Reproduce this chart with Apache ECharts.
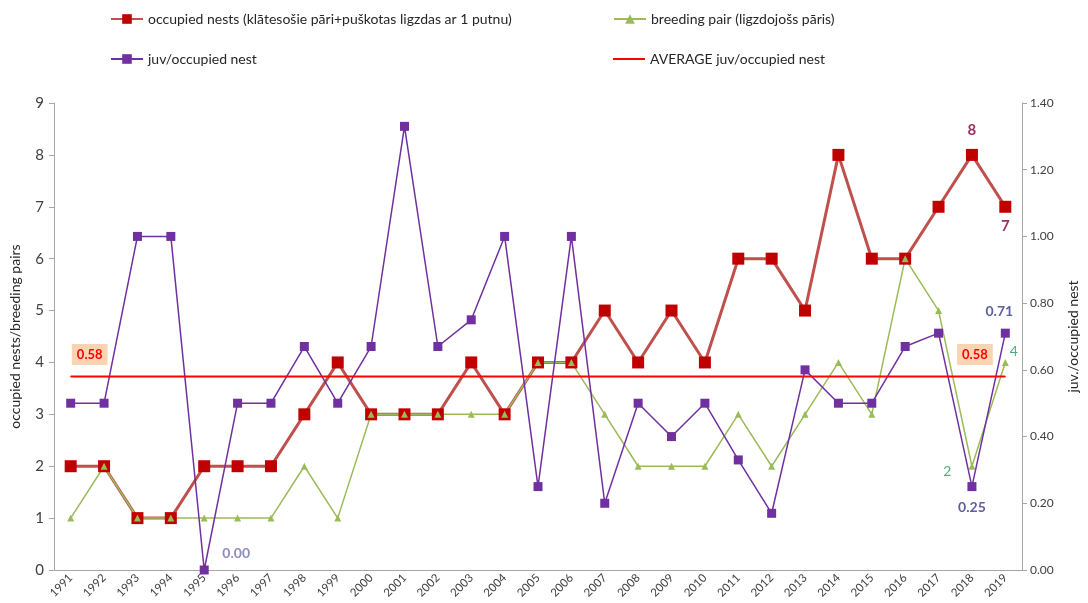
<!DOCTYPE html>
<html lang="en">
<head>
  <meta charset="UTF-8">
  <script src="https://cdn.jsdelivr.net/npm/echarts@6/dist/echarts.min.js"></script>
  <style>
    body { margin: 0; background: #fff; }
    #main { width: 1088px; height: 603px; }
  </style>
  <title>occupied nests</title>
</head>
<body>
  <div id="main"></div>
  <script>
    const years = ['1991', '1992', '1993', '1994', '1995', '1996', '1997', '1998', '1999', '2000',
      '2001', '2002', '2003', '2004', '2005', '2006', '2007', '2008', '2009', '2010',
      '2011', '2012', '2013', '2014', '2015', '2016', '2017', '2018', '2019'];
    const occupiedNests = [2, 2, 1, 1, 2, 2, 2, 3, 4, 3, 3, 3, 4, 3, 4, 4, 5, 4, 5, 4, 6, 6, 5, 8, 6, 6, 7, 8, 7];
    const breedingPairs = [1, 2, 1, 1, 1, 1, 1, 2, 1, 3, 3, 3, 3, 3, 4, 4, 3, 2, 2, 2, 3, 2, 3, 4, 3, 6, 5, 2, 4];
    const juvPerNest = [0.5, 0.5, 1.0, 1.0, 0, 0.5, 0.5, 0.67, 0.5, 0.67, 1.33, 0.67, 0.75, 1.0, 0.25, 1.0, 0.2,
      0.5, 0.4, 0.5, 0.33, 0.17, 0.6, 0.5, 0.5, 0.67, 0.71, 0.25, 0.71];
    const avgJuv = 0.58;

    const font = 'Lato, "Open Sans", sans-serif';

    // labels shown only on a few points, like the original
    const nestLabels = { 27: { position: 'top', offset: [0, -6] }, 28: { position: 'bottom', offset: [0, 1] } };
    const pairLabels = { 27: { position: 'left', offset: [-12, 5] }, 28: { position: 'right', offset: [-4, -11] } };
    const juvLabels = {
      4: { position: 'top', offset: [32, 0], color: '#8c8cc0' },
      27: { position: 'bottom', offset: [0, 4] },
      28: { position: 'top', offset: [-6, -5] }
    };
    const avgLabels = { 0: { offset: [19, -6] }, 27: { offset: [3, -6] } };

    function withLabels(values, labels, base) {
      return values.map((v, i) => {
        if (!labels[i]) return v;
        return { value: v, label: Object.assign({ show: true }, base, labels[i]) };
      });
    }

    const chart = echarts.init(document.getElementById('main'));

    const legendBase = {
      orient: 'horizontal',
      itemWidth: 32,
      itemHeight: 12,
      textStyle: { fontFamily: font, fontSize: 14, color: '#262626' }
    };

    const option = {
      animation: false,
      textStyle: { fontFamily: font },
      legend: [
        Object.assign({}, legendBase, { left: 105, top: 7, data: ['occupied nests (klātesošie pāri+puškotas ligzdas ar 1 putnu)'] }),
        Object.assign({}, legendBase, { left: 608, top: 7, data: ['breeding pair (ligzdojošs pāris)'] }),
        Object.assign({}, legendBase, { left: 105, top: 47, data: ['juv/occupied nest'] }),
        Object.assign({}, legendBase, {
          left: 608, top: 47, itemHeight: 2,
          data: [{ name: 'AVERAGE juv/occupied nest', icon: 'rect' }]
        })
      ],
      grid: { left: 52, right: 58, top: 103, bottom: 33 },
      xAxis: {
        type: 'category',
        data: years,
        boundaryGap: true,
        axisLine: { lineStyle: { color: '#a6a6a6' } },
        axisTick: { lineStyle: { color: '#a6a6a6' } },
        axisLabel: { rotate: 45, fontSize: 11.5, color: '#404040', margin: 6, interval: 0 }
      },
      yAxis: [
        {
          type: 'value', min: 0, max: 9, interval: 1,
          name: 'occupied nests/breeding pairs',
          nameLocation: 'middle', nameGap: 32, nameRotate: 90,
          nameTextStyle: { fontSize: 14, color: '#262626' },
          axisLine: { show: true, lineStyle: { color: '#a6a6a6' } },
          axisTick: { show: true, lineStyle: { color: '#a6a6a6' } },
          splitLine: { show: false },
          axisLabel: { fontSize: 15, color: '#404040', margin: 10 }
        },
        {
          type: 'value', min: 0, max: 1.4, interval: 0.2,
          name: 'juv./occupied nest',
          nameLocation: 'middle', nameGap: 44, nameRotate: 90,
          nameTextStyle: { fontSize: 14, color: '#262626' },
          axisLine: { show: true, lineStyle: { color: '#a6a6a6' } },
          axisTick: { show: true, lineStyle: { color: '#a6a6a6' } },
          splitLine: { show: false },
          axisLabel: { fontSize: 12, color: '#404040', margin: 8, formatter: v => v.toFixed(2) }
        }
      ],
      series: [
        {
          name: 'occupied nests (klātesošie pāri+puškotas ligzdas ar 1 putnu)',
          type: 'line',
          yAxisIndex: 0,
          symbol: 'rect',
          symbolSize: 12,
          lineStyle: { color: '#c0504d', width: 3 },
          itemStyle: { color: '#c00000' },
          data: withLabels(occupiedNests, nestLabels, { color: '#993366', fontSize: 15, fontWeight: 'bold' })
        },
        {
          name: 'breeding pair (ligzdojošs pāris)',
          type: 'line',
          yAxisIndex: 0,
          symbol: 'triangle',
          symbolSize: 7,
          lineStyle: { color: '#9bbb59', width: 1.5 },
          itemStyle: { color: '#9bbb59' },
          data: withLabels(breedingPairs, pairLabels, { color: '#4fae7f', fontSize: 14 })
        },
        {
          name: 'juv/occupied nest',
          type: 'line',
          yAxisIndex: 1,
          symbol: 'rect',
          symbolSize: 9,
          lineStyle: { color: '#7030a0', width: 1.5 },
          itemStyle: { color: '#7030a0' },
          data: withLabels(juvPerNest, juvLabels, {
            color: '#5f5f9f', fontSize: 14, fontWeight: 'bold',
            formatter: p => p.value.toFixed(2)
          })
        },
        {
          name: 'AVERAGE juv/occupied nest',
          type: 'line',
          yAxisIndex: 1,
          symbol: 'circle',
          symbolSize: 1,
          lineStyle: { color: '#ff0000', width: 2 },
          itemStyle: { color: '#ff0000' },
          data: withLabels(years.map(() => avgJuv), avgLabels, {
            position: 'top', color: '#ff0000', fontSize: 13, fontWeight: 'bold',
            backgroundColor: '#fbd4b4', padding: [4, 5],
            formatter: p => p.value.toFixed(2)
          })
        }
      ]
    };

    chart.setOption(option);
  </script>
</body>
</html>
